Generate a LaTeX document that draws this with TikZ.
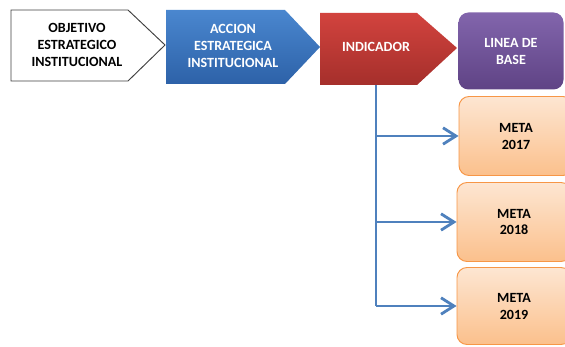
\documentclass[tikz,border=0pt]{standalone}
\usepackage{fontspec}
\setmainfont{Carlito}
\usetikzlibrary{arrows.meta}
\definecolor{borde}{HTML}{404040}
\definecolor{azularriba}{HTML}{4A87CF}
\definecolor{azulabajo}{HTML}{2D62A8}
\definecolor{rojoarriba}{HTML}{D2433E}
\definecolor{rojoabajo}{HTML}{A52F2B}
\definecolor{moradoarriba}{HTML}{8265AC}
\definecolor{moradoabajo}{HTML}{5F4385}
\definecolor{naranjaarriba}{HTML}{FDE6D2}
\definecolor{naranjaabajo}{HTML}{FBC08C}
\definecolor{naranjaborde}{HTML}{F79646}
\definecolor{linea}{HTML}{4F81BD}

\begin{document}
\begin{tikzpicture}[x=0.03cm,y=-0.03cm,
  txt/.style={font=\bfseries\fontsize{12}{14.5}\selectfont,align=center,inner sep=0pt},
  caja/.style={rounded corners=0.3cm,minimum width=3.42cm,minimum height=2.37cm},
  metabox/.style={caja,draw=naranjaborde,thick,top color=naranjaarriba,bottom color=naranjaabajo,txt},
  flujo/.style={draw=linea,line width=2.4pt},
  flecha/.style={flujo,-{Straight Barb[length=11pt,width=14pt,line width=2.4pt]}}]
\useasboundingbox (0,0) rectangle (565,347);

% flechas pentagono
\draw[borde,fill=white,thick] (11,10) -- (128,10) -- (165,45) -- (128,81) -- (11,81) -- cycle;
\shade[top color=azularriba,bottom color=azulabajo] (166,10) -- (285,10) -- (320,47) -- (285,84) -- (166,84) -- cycle;
\shade[top color=rojoarriba,bottom color=rojoabajo] (320,13) -- (417,13) -- (457,48) -- (417,85) -- (320,85) -- cycle;

\node[txt] (obj) at (77,45) {OBJETIVO\\ESTRATEGICO\\INSTITUCIONAL};
\node[txt,white] (acc) at (233,46) {ACCION\\ESTRATEGICA\\INSTITUCIONAL};
\node[txt,white] (ind) at (376,47) {INDICADOR};
\coordinate (indbot) at (376,85);

\node[caja,top color=moradoarriba,bottom color=moradoabajo,txt,white,minimum width=3.15cm,minimum height=2.31cm] (base) at (511,51) {LINEA DE\\BASE};

% metas
\node[metabox] (m17) at (516,136) {META\\2017};
\node[metabox] (m18) at (514,222) {META\\2018};
\node[metabox,minimum height=2.31cm] (m19) at (514,306) {META\\2019};

\draw[flujo] (indbot) -- (ind |- m19.west);
\draw[flecha] (ind |- m17.west) -- (m17.west);
\draw[flecha] (ind |- m18.west) -- (m18.west);
\draw[flecha] (ind |- m19.west) -- (m19.west);
\end{tikzpicture}
\end{document}
